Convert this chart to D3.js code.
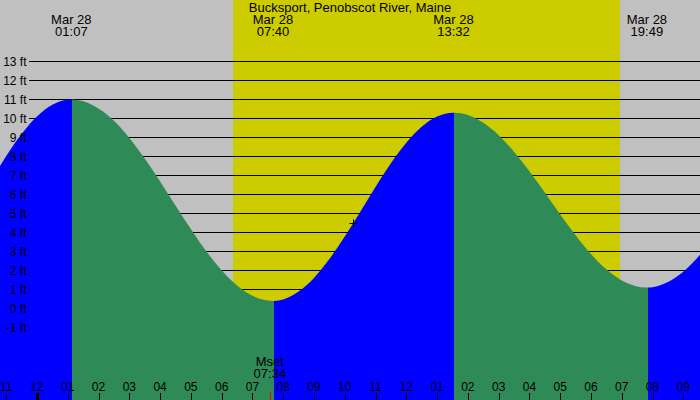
<!DOCTYPE html>
<html><head><meta charset="utf-8">
<script src="https://cdn.jsdelivr.net/npm/d3@7"></script>
<style>
body{margin:0;background:#fff}
svg{display:block}
text{font-family:"Liberation Sans",Arial,Helvetica,sans-serif;font-size:12px;fill:#000}
text.big{font-size:13px}
</style>
</head><body>
<svg id="c" width="700" height="400"></svg>
<script>
// ---- data (hours since midnight Mar 28) ----
const title = "Bucksport, Penobscot River, Maine";
const tideHours   = [-1.25,-1,-0.5,0,0.5,1.117,1.5,2,2.5,3,3.5,4,4.5,5,5.5,6,6.5,7,7.667,8,8.5,9,9.5,10,10.5,11,11.5,12,12.5,13,13.533,14,14.5,15,15.5,16,16.5,17,17.5,18,18.5,19,19.817,20,20.5,21,21.5,21.75];
const tideHeights = [7.37,8.02,9.18,10.10,10.72,11.0,10.91,10.53,9.88,8.98,7.90,6.69,5.42,4.18,3.01,2.01,1.21,0.67,0.4,0.48,0.89,1.61,2.60,3.79,5.08,6.40,7.64,8.72,9.56,10.10,10.3,10.18,9.77,9.12,8.25,7.22,6.10,4.95,3.86,2.87,2.06,1.48,1.1,1.12,1.39,1.94,2.75,3.24];
const extremeHours = [1.117, 7.667, 13.533, 19.817];
const extremeDates = ["Mar 28","Mar 28","Mar 28","Mar 28"];
const extremeTimes = ["01:07","07:40","13:32","19:49"];
const extremeTypes = ["high","low","high","low"];
const sunriseHour = 6.383, sunsetHour = 18.95;
const moonLabel = "Mset", moonTime = "07:34", moonHour = 7.567;
const tickHours  = [-1,0,1,2,3,4,5,6,7,8,9,10,11,12,13,14,15,16,17,18,19,20,21];
const tickLabels = ["11","12","01","02","03","04","05","06","07","08","09","10","11","12","01","02","03","04","05","06","07","08","09"];
const levelValues = [-1,0,1,2,3,4,5,6,7,8,9,10,11,12,13];
const levelLabels = ["-1 ft","0 ft","1 ft","2 ft","3 ft","4 ft","5 ft","6 ft","7 ft","8 ft","9 ft","10 ft","11 ft","12 ft","13 ft"];
const markerHour = 10.28, markerHeight = 4.5;

const W = 700, H = 400;
const svg = d3.select("#c");
const x = d3.scaleLinear().domain([-1, 21]).range([6.2, 683.3]);
const y = d3.scaleLinear().domain([0, 13]).range([308.5, 61.5]);

// background & daylight
svg.append("rect").attr("width", W).attr("height", H).attr("fill", "#c0c0c0");
svg.append("rect").attr("x", Math.round(x(sunriseHour))).attr("y", 0)
  .attr("width", Math.round(x(sunsetHour)) - Math.round(x(sunriseHour))).attr("height", H)
  .attr("fill", "#cccc00");

// level lines
svg.append("g").selectAll("line").data(levelValues).join("line")
  .attr("x1", 29).attr("x2", W)
  .attr("y1", d => y(d)).attr("y2", d => y(d))
  .attr("stroke", "#000").attr("stroke-width", 1);

// tide area, coloured by rising / falling
const pts = tideHours.map((h, i) => [h, tideHeights[i]]);
const area = d3.area().x(d => x(d[0])).y0(H).y1(d => y(d[1])).curve(d3.curveMonotoneX);
const bounds = [-3].concat(extremeHours, [25]);
const defs = svg.append("defs");
for (let i = 0; i < bounds.length - 1; i++) {
  const x0 = Math.round(x(bounds[i])) + 1, x1 = Math.round(x(bounds[i + 1])) + 1;
  defs.append("clipPath").attr("id", "band" + i).append("rect")
    .attr("x", x0).attr("y", 0).attr("width", x1 - x0).attr("height", H);
  const rising = (i < extremeTypes.length) ? extremeTypes[i] === "high" : extremeTypes[i - 1] === "low";
  svg.append("path").datum(pts).attr("d", area)
    .attr("fill", rising ? "#0000ff" : "#2e8b57")
    .attr("clip-path", "url(#band" + i + ")");
}

// level labels
svg.append("g").selectAll("text").data(levelValues).join("text")
  .attr("x", 26.5).attr("y", d => y(d) + 4.2).attr("text-anchor", "end")
  .text((d, i) => levelLabels[i]);

// title & extreme labels
svg.append("text").attr("class", "big").attr("x", 350).attr("y", 11.5).attr("text-anchor", "middle").text(title);
const ex = svg.append("g").selectAll("g").data(extremeHours).join("g");
ex.append("text").attr("class", "big").attr("x", d => x(d)).attr("y", 24).attr("text-anchor", "middle").text((d, i) => extremeDates[i]);
ex.append("text").attr("class", "big").attr("x", d => x(d)).attr("y", 35.7).attr("text-anchor", "middle").text((d, i) => extremeTimes[i]);

// moonset
svg.append("text").attr("class", "big").attr("x", x(moonHour)).attr("y", 366).attr("text-anchor", "middle").text(moonLabel);
svg.append("text").attr("class", "big").attr("x", x(moonHour)).attr("y", 377.5).attr("text-anchor", "middle").text(moonTime);

// hour axis
svg.append("g").selectAll("text").data(tickHours).join("text")
  .attr("x", d => x(d)).attr("y", 391).attr("text-anchor", "middle")
  .text((d, i) => tickLabels[i]);
svg.append("g").selectAll("line").data(tickHours).join("line")
  .attr("x1", d => Math.round(x(d)) + 0.5).attr("x2", d => Math.round(x(d)) + 0.5)
  .attr("y1", 393).attr("y2", H)
  .attr("stroke", "#000").attr("stroke-width", d => d === 0 ? 3 : 1);
svg.append("line")
  .attr("x1", Math.round(x(moonHour)) + 0.5).attr("x2", Math.round(x(moonHour)) + 0.5)
  .attr("y1", 392).attr("y2", H).attr("stroke", "#ff0000").attr("stroke-width", 1);

// marker
const mx = Math.round(x(markerHour)) + 0.5, my = Math.round(y(markerHeight)) + 0.5;
svg.append("line").attr("x1", mx - 4).attr("x2", mx + 4).attr("y1", my).attr("y2", my).attr("stroke", "#000");
svg.append("line").attr("x1", mx).attr("x2", mx).attr("y1", my - 4).attr("y2", my + 4).attr("stroke", "#000");
</script>
</body></html>
